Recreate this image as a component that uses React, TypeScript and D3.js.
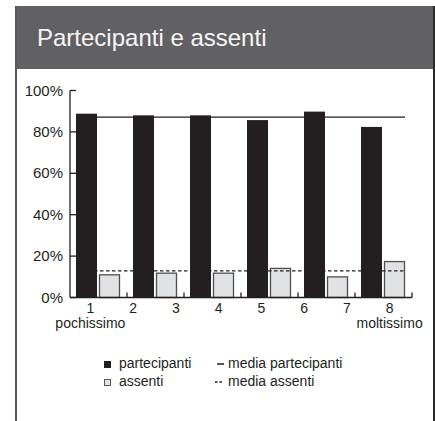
import React from "react";
import * as d3 from "d3";

// Shares per group (percent)
const groups = ["g1", "g2", "g3", "g4", "g5", "g6"];
const partecipanti = [88.8, 88, 88, 85.7, 89.8, 82.4];
const assenti = [11.2, 12, 12, 14.3, 10.2, 17.6];

// Scale labels along the horizontal axis
const scaleLabels = ["1", "2", "3", "4", "5", "6", "7", "8"];
const scaleNotes: Record<string, string> = { "1": "pochissimo", "8": "moltissimo" };

const yTicks = [0, 20, 40, 60, 80, 100];

const W = 435;
const H = 421;
const FONT = "'Liberation Sans', Arial, Helvetica, sans-serif";
const INK = "#231f20";

export default function App() {
  const x0 = 70;
  const x1 = 412;
  const yBase = 297.5;
  const yTop = 90.5;

  const xGroup = d3.scaleBand<string>().domain(groups).range([x0, x1]).paddingInner(0).paddingOuter(0);
  const xLabel = d3.scaleBand<string>().domain(scaleLabels).range([x0, x1]);
  const y = d3.scaleLinear().domain([0, 100]).range([yBase, yTop]);

  const bw = xGroup.bandwidth();
  const barW = 21;
  const offBlack = 6;
  const offGray = 29;

  const mediaP = d3.mean(partecipanti) as number;
  const mediaA = d3.mean(assenti) as number;

  const lineX0 = (xGroup(groups[0]) as number) + offBlack;
  const lineX1 = (xGroup(groups[groups.length - 1]) as number) + offGray + barW;

  const meanLine = d3.line<[number, number]>();

  return (
    <svg
      width={W}
      height={H}
      viewBox={`0 0 ${W} ${H}`}
      style={{ position: "absolute", left: 0, top: 0, background: "#fff" }}
      fontFamily={FONT}
    >
      {/* panel header */}
      <rect x={15} y={6} width={W - 15} height={63} fill="#616163" />
      <text x={37} y={45.5} fill="#f7f7f7" fontSize={24}>
        Partecipanti e assenti
      </text>
      {/* panel side borders */}
      <rect x={15} y={6} width={2} height={H - 6} fill="#58585a" />
      <rect x={433} y={6} width={2} height={H - 6} fill="#2b2b2b" />

      {/* mean line of participants (behind the bars) */}
      <path
        d={meanLine([[lineX0, y(mediaP)], [lineX1, y(mediaP)]]) as string}
        stroke={INK}
        strokeWidth={1.4}
        fill="none"
      />

      {/* bars */}
      {groups.map((g, i) => {
        const gx = xGroup(g) as number;
        return (
          <g key={g}>
            <rect
              x={gx + offBlack}
              y={y(partecipanti[i])}
              width={barW}
              height={yBase - y(partecipanti[i])}
              fill={INK}
            />
            <rect
              x={gx + offGray + 0.5}
              y={y(assenti[i]) + 0.5}
              width={barW - 1}
              height={yBase - y(assenti[i]) - 0.5}
              fill="#e1e2e3"
              stroke="#4f4f51"
              strokeWidth={1.3}
            />
          </g>
        );
      })}

      {/* mean line of absentees */}
      <path
        d={meanLine([[lineX0, y(mediaA)], [lineX1, y(mediaA)]]) as string}
        stroke={INK}
        strokeWidth={1.4}
        strokeDasharray="3.5,2.5"
        fill="none"
      />

      {/* y axis */}
      <line x1={x0} x2={x0} y1={yTop} y2={yBase} stroke={INK} strokeWidth={1.3} />
      {yTicks.map((t) => (
        <g key={t}>
          <line x1={x0} x2={x0 + 6} y1={y(t)} y2={y(t)} stroke={INK} strokeWidth={1.3} />
          <text x={63} y={y(t) + 5} textAnchor="end" fontSize={15} fill={INK}>
            {t}%
          </text>
        </g>
      ))}

      {/* x axis */}
      <line x1={x0} x2={x1} y1={yBase} y2={yBase} stroke={INK} strokeWidth={1.3} />
      {groups.map((g) => {
        const tx = (xGroup(g) as number) + bw;
        return <line key={g} x1={tx} x2={tx} y1={yBase} y2={yBase - 5} stroke={INK} strokeWidth={1.3} />;
      })}
      {scaleLabels.map((l) => {
        const cx = (xLabel(l) as number) + xLabel.bandwidth() / 2 - 1;
        return (
          <g key={l}>
            <text x={cx} y={313} textAnchor="middle" fontSize={14} fill={INK}>
              {l}
            </text>
            {scaleNotes[l] && (
              <text x={cx} y={327.5} textAnchor="middle" fontSize={14} fill={INK}>
                {scaleNotes[l]}
              </text>
            )}
          </g>
        );
      })}

      {/* legend */}
      <rect x={104} y={361} width={7} height={7} fill={INK} />
      <text x={119} y={368} fontSize={14} fill={INK}>partecipanti</text>
      <rect x={104.5} y={379.5} width={6} height={6} fill="#e1e2e3" stroke="#58585a" strokeWidth={1} />
      <text x={119} y={386} fontSize={14} fill={INK}>assenti</text>

      <line x1={217} x2={224} y1={364} y2={364} stroke={INK} strokeWidth={1.5} />
      <text x={228} y={368} fontSize={14} fill={INK}>media partecipanti</text>
      <line x1={215} x2={224} y1={382} y2={382} stroke={INK} strokeWidth={1.5} strokeDasharray="2.5,2" />
      <text x={228} y={386} fontSize={14} fill={INK}>media assenti</text>
    </svg>
  );
}
